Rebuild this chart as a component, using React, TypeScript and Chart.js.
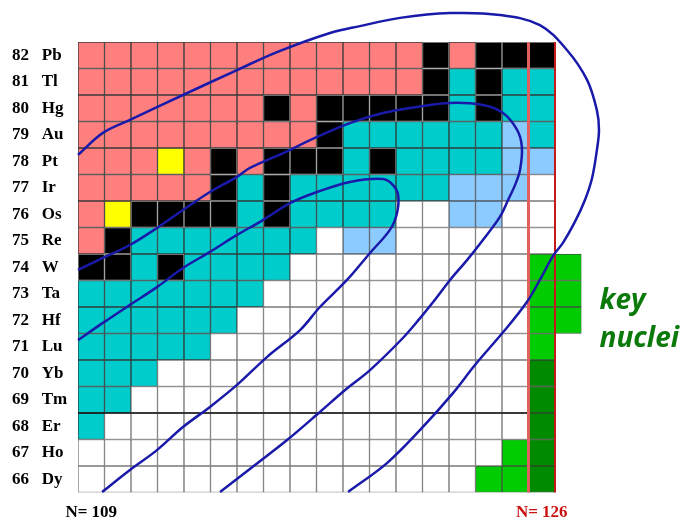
import React, { useEffect, useRef } from 'react';
import { Chart, registerables } from 'chart.js';

Chart.register(...registerables);

// Neutron numbers (columns) and proton numbers (rows)
const N_VALUES = ['109', '110', '111', '112', '113', '114', '115', '116', '117', '118', '119', '120', '121', '122', '123', '124', '125', '126', '127'];
const Z_VALUES = [82, 81, 80, 79, 78, 77, 76, 75, 74, 73, 72, 71, 70, 69, 68, 67, 66];
const SYMBOLS = ['Pb', 'Tl', 'Hg', 'Au', 'Pt', 'Ir', 'Os', 'Re', 'W', 'Ta', 'Hf', 'Lu', 'Yb', 'Tm', 'Er', 'Ho', 'Dy'];
const MARKED_N = ['109', '126'];
const KEY_LINES = ['key', 'nuclei'];

// Cell classes per row (one char per N = 109..127)
// P pink, K black, C cyan, L light blue, Y yellow, W white, G green, D dark green, . none
const CELL_ROWS = [
  'PPPPPPPPPPPPPKPKKK.',
  'PPPPPPPPPPPPPKCKCC.',
  'PPPPPPPKPKKKKKCKCC.',
  'PPPPPPPPPKCCCCCCLC.',
  'PPPYPKPKKKCKCCCCLL.',
  'PPPPPKCKCCCCCCLLLW.',
  'PYKKKKCKCCCCWWLLWW.',
  'PKCCCCCCCWLLWWWWWW.',
  'KKCKCCCCWWWWWWWWWGG',
  'CCCCCCCWWWWWWWWWWGG',
  'CCCCCCWWWWWWWWWWWGG',
  'CCCCCWWWWWWWWWWWWG.',
  'CCCWWWWWWWWWWWWWWD.',
  'CCWWWWWWWWWWWWWWWD.',
  'CWWWWWWWWWWWWWWWWD.',
  'WWWWWWWWWWWWWWWWGD.',
  'WWWWWWWWWWWWWWWGGD.',
];

const CELL_KEYS = ['W', 'P', 'C', 'L', 'Y', 'K', 'G', 'D'];
const CELL_FILL: Record<string, string> = {
  P: '#ff7f7f', K: '#000000', C: '#00cccc', L: '#8ccbff', Y: '#ffff00', W: '#ffffff', G: '#00cc00', D: '#008a00',
};
const CELL_BORDER: Record<string, string> = {
  P: '#3a3a3a', K: '#9a9a9a', C: '#2e3e3e', L: '#505a66', Y: '#3a3a3a', W: '#7a7a7a', G: '#3c5a3c', D: '#2c4a2c',
};

// Trajectory curves (N, Z)
const OUTER_N = [108.5, 109.44, 110.46, 112.46, 114.5, 116.01, 118.01, 119.14, 120.65, 122.54, 124.42, 125.93, 126.95, 127.71, 128.08, 128.16, 128.08, 127.9, 127.63, 127.25, 126.8, 126.42, 125.93, 125.44, 124.61, 123.48, 122.65, 121.41, 120.16, 118.69];
const OUTER_Z = [78.24, 79.07, 79.56, 80.5, 81.44, 82.12, 82.84, 83.1, 83.41, 83.59, 83.52, 83.14, 82.2, 81.07, 79.93, 79.18, 78.42, 77.37, 76.54, 75.71, 74.92, 74.42, 73.52, 72.69, 71.63, 70.31, 69.25, 67.86, 66.61, 65.52];
const MIDDLE_N = [108.5, 109.44, 110.46, 111.48, 112.46, 113.48, 114.5, 114.99, 116.24, 117.52, 118.76, 120.01, 121.29, 122.54, 123.78, 124.54, 125.07, 125.25, 125.18, 124.99, 124.73, 124.42, 123.78, 123.18, 122.54, 121.97, 121.41, 120.76, 119.52, 118.58, 117.63, 116.39, 115.18, 113.86];
const MIDDLE_Z = [73.9, 74.35, 74.84, 75.48, 76.16, 76.84, 77.41, 77.75, 78.31, 78.92, 79.44, 79.82, 80.05, 80.2, 80.12, 79.82, 79.18, 78.54, 77.67, 77.1, 76.54, 75.9, 75.03, 74.27, 73.52, 72.77, 72.08, 71.33, 70.12, 69.37, 68.54, 67.48, 66.54, 65.52];
const INNER_N = [108.5, 109.44, 110.46, 111.48, 112.46, 113.48, 114.5, 115.48, 116.5, 117.52, 118.76, 120.01, 120.39, 120.58, 120.54, 120.27, 119.52, 118.65, 117.63, 116.88, 115.63, 114.5, 113.48, 112.46, 111.48, 110.46, 109.41];
const INNER_Z = [71.25, 71.9, 72.58, 73.25, 73.97, 74.58, 75.22, 75.78, 76.42, 76.84, 77.22, 77.33, 77.1, 76.73, 76.05, 75.41, 74.54, 73.52, 72.5, 71.63, 70.61, 69.56, 68.73, 67.97, 67.1, 66.35, 65.52];

// Marker lines: N = 126 shell boundaries, Z separator
const SHELL_N_LEFT = 125.5;
const SHELL_N_RIGHT = 126.5;
const Z_SEPARATOR = 68.5;

const zip = (xs: number[], ys: number[]) => xs.map((x, i) => ({ x, y: ys[i] }));

const keyLabelPlugin = {
  id: 'keyLabel',
  afterDraw(chart: any) {
    const { ctx, chartArea } = chart;
    const ys = chart.scales.y;
    const x = chartArea.right + 18;
    ctx.save();
    ctx.fillStyle = '#0b7a0b';
    ctx.font = 'italic bold 28px "Open Sans", "DejaVu Sans", sans-serif';
    ctx.textBaseline = 'alphabetic';
    ctx.textAlign = 'left';
    ctx.fillText(KEY_LINES[0], x, ys.getPixelForValue(72.5) + 2);
    ctx.fillText(KEY_LINES[1], x, ys.getPixelForValue(71.0));
    ctx.restore();
  },
};

export default function App() {
  const ref = useRef<HTMLCanvasElement | null>(null);

  useEffect(() => {
    if (!ref.current) return;

    const barSets = CELL_KEYS.map((key) => {
      const data: any[] = [];
      CELL_ROWS.forEach((row, ri) => {
        row.split('').forEach((ch, ci) => {
          if (ch === key) data.push({ x: N_VALUES[ci], y: [Z_VALUES[ri] - 0.5, Z_VALUES[ri] + 0.5] });
        });
      });
      return {
        type: 'bar' as const,
        label: key,
        data,
        backgroundColor: CELL_FILL[key],
        borderColor: CELL_BORDER[key],
        borderWidth: 1,
        borderSkipped: false,
        grouped: false,
        barPercentage: 1,
        categoryPercentage: 1,
        order: 10,
      };
    });

    const lineBase = {
      type: 'line' as const,
      xAxisID: 'xl',
      yAxisID: 'y',
      pointRadius: 0,
      fill: false,
      clip: false as any,
    };

    const chart = new Chart(ref.current, {
      type: 'bar',
      data: {
        labels: N_VALUES,
        datasets: [
          { ...lineBase, label: 'inner', data: zip(INNER_N, INNER_Z), borderColor: '#1a1aaa', borderWidth: 2.5, tension: 0.35, order: 0 },
          { ...lineBase, label: 'middle', data: zip(MIDDLE_N, MIDDLE_Z), borderColor: '#1a1aaa', borderWidth: 2.5, tension: 0.35, order: 0 },
          { ...lineBase, label: 'outer', data: zip(OUTER_N, OUTER_Z), borderColor: '#1a1aaa', borderWidth: 2.5, tension: 0.35, order: 0 },
          { ...lineBase, label: 'shellL', data: [{ x: SHELL_N_LEFT, y: 65.5 }, { x: SHELL_N_LEFT, y: 82.5 }], borderColor: '#e06060', borderWidth: 3, tension: 0, order: 1 },
          { ...lineBase, label: 'shellR', data: [{ x: SHELL_N_RIGHT, y: 65.5 }, { x: SHELL_N_RIGHT, y: 82.5 }], borderColor: '#c41a1a', borderWidth: 2, tension: 0, order: 1 },
          { ...lineBase, label: 'zsep', data: [{ x: 108.5, y: Z_SEPARATOR }, { x: SHELL_N_LEFT, y: Z_SEPARATOR }], borderColor: '#1a1a1a', borderWidth: 1.5, tension: 0, order: 2 },
          ...barSets,
        ] as any,
      },
      options: {
        responsive: false,
        animation: false,
        devicePixelRatio: 1,
        layout: { padding: { left: 12, right: 109.5, top: 42, bottom: 0 } },
        plugins: { legend: { display: false }, tooltip: { enabled: false }, title: { display: false } },
        scales: {
          x: {
            type: 'category',
            offset: true,
            grid: { display: false, drawTicks: false },
            border: { display: false },
            ticks: {
              autoSkip: false,
              maxRotation: 0,
              padding: 10,
              font: { family: '"Liberation Serif", serif', size: 17, weight: 'bold' },
              color: (c: any) => (N_VALUES[c.index] === '126' ? '#cc1111' : '#000000'),
              callback: (_v: any, i: number) => (MARKED_N.includes(N_VALUES[i]) ? `N= ${N_VALUES[i]}` : ''),
            },
            afterFit: (s: any) => { s.height = 28.5; },
          },
          xl: { type: 'linear', min: 108.5, max: 127.5, offset: false, bounds: 'ticks', display: false, grid: { offset: false } },
          y: {
            type: 'linear',
            min: 65.5,
            max: 82.5,
            grid: { display: false, drawTicks: false },
            border: { display: false },
            afterBuildTicks: (s: any) => { s.ticks = Z_VALUES.map((v) => ({ value: v })); },
            afterFit: (s: any) => { s.width = 66; },
            ticks: {
              autoSkip: false,
              crossAlign: 'far',
              color: '#000000',
              font: { family: '"Liberation Serif", serif', size: 17, weight: 'bold' },
              callback: (v: any) => {
                const i = Z_VALUES.indexOf(Number(v));
                return i >= 0 ? `${v}   ${SYMBOLS[i]}` : '';
              },
            },
          },
        } as any,
      },
      plugins: [keyLabelPlugin],
    });
    return () => chart.destroy();
  }, []);

  return (
    <canvas
      ref={ref}
      width={691}
      height={521}
      style={{ position: 'absolute', left: 0, top: 0, width: 691, height: 521, display: 'block', background: '#ffffff' }}
    />
  );
}
